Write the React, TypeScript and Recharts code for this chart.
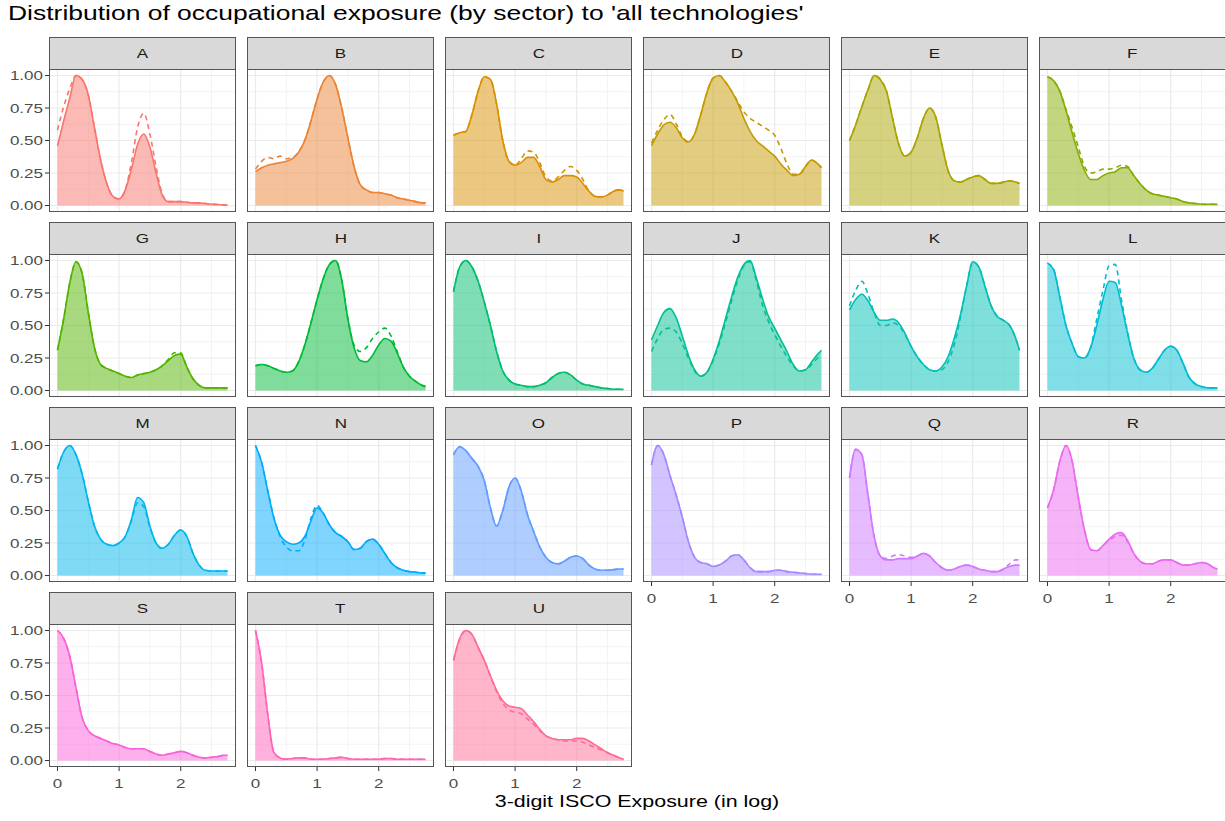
import React from "react";
import { ComposedChart, Area, Line, XAxis, YAxis, CartesianGrid } from "recharts";

// x grid of the density estimates (log exposure)
const X = [0, 0.1, 0.2, 0.3, 0.4, 0.5, 0.6, 0.7, 0.8, 0.9, 1.0, 1.1, 1.2, 1.3, 1.4, 1.5, 1.6, 1.7, 1.8, 1.9, 2.0, 2.1, 2.2, 2.3, 2.4, 2.5, 2.6, 2.7, 2.76];

const SECTORS = ["A", "B", "C", "D", "E", "F", "G", "H", "I", "J", "K", "L", "M", "N", "O", "P", "Q", "R", "S", "T", "U"];

const A_SOLID = [0.46, 0.65, 0.83, 1.0, 0.97, 0.85, 0.6, 0.35, 0.17, 0.07, 0.05, 0.12, 0.28, 0.47, 0.55, 0.45, 0.25, 0.08, 0.03, 0.03, 0.03, 0.025, 0.02, 0.02, 0.015, 0.01, 0.008, 0.005, 0.003];
const A_DASH = [0.58, 0.76, 0.9, 1.0, 0.97, 0.85, 0.6, 0.35, 0.17, 0.07, 0.05, 0.12, 0.33, 0.6, 0.71, 0.55, 0.3, 0.09, 0.03, 0.03, 0.03, 0.025, 0.02, 0.02, 0.015, 0.01, 0.008, 0.005, 0.003];
const B_SOLID = [0.26, 0.29, 0.31, 0.32, 0.33, 0.34, 0.36, 0.41, 0.5, 0.65, 0.82, 0.95, 1.0, 0.93, 0.75, 0.52, 0.3, 0.16, 0.12, 0.1, 0.1, 0.09, 0.08, 0.06, 0.05, 0.04, 0.03, 0.02, 0.02];
const B_DASH = [0.28, 0.34, 0.37, 0.36, 0.38, 0.36, 0.37, 0.41, 0.5, 0.65, 0.82, 0.95, 1.0, 0.93, 0.75, 0.52, 0.3, 0.16, 0.12, 0.1, 0.1, 0.09, 0.08, 0.06, 0.05, 0.04, 0.03, 0.02, 0.02];
const C_SOLID = [0.54, 0.56, 0.57, 0.7, 0.88, 0.99, 0.97, 0.78, 0.5, 0.34, 0.31, 0.33, 0.37, 0.37, 0.3, 0.2, 0.18, 0.2, 0.23, 0.23, 0.22, 0.17, 0.11, 0.07, 0.065, 0.08, 0.11, 0.12, 0.11];
const C_DASH = [0.54, 0.56, 0.57, 0.7, 0.88, 0.99, 0.97, 0.78, 0.5, 0.34, 0.31, 0.36, 0.42, 0.41, 0.33, 0.22, 0.19, 0.22, 0.27, 0.3, 0.27, 0.2, 0.11, 0.07, 0.065, 0.08, 0.11, 0.12, 0.11];
const D_SOLID = [0.46, 0.55, 0.62, 0.64, 0.6, 0.52, 0.49, 0.55, 0.7, 0.87, 0.98, 1.0, 0.95, 0.88, 0.79, 0.67, 0.57, 0.5, 0.46, 0.42, 0.38, 0.32, 0.27, 0.23, 0.24, 0.3, 0.35, 0.32, 0.29];
const D_DASH = [0.48, 0.58, 0.66, 0.7, 0.63, 0.53, 0.49, 0.55, 0.7, 0.87, 0.98, 1.0, 0.95, 0.88, 0.8, 0.72, 0.67, 0.64, 0.61, 0.58, 0.54, 0.44, 0.32, 0.24, 0.24, 0.3, 0.35, 0.32, 0.29];
const E_SOLID = [0.5, 0.62, 0.76, 0.89, 1.0, 0.97, 0.88, 0.67, 0.47, 0.38, 0.41, 0.52, 0.67, 0.75, 0.68, 0.47, 0.27, 0.19, 0.18, 0.2, 0.22, 0.23, 0.2, 0.17, 0.17, 0.18, 0.19, 0.18, 0.17];
const E_DASH = E_SOLID;
const F_SOLID = [0.99, 0.96, 0.88, 0.73, 0.56, 0.4, 0.27, 0.2, 0.2, 0.23, 0.25, 0.26, 0.29, 0.29, 0.23, 0.17, 0.12, 0.09, 0.08, 0.07, 0.06, 0.05, 0.03, 0.02, 0.015, 0.01, 0.01, 0.01, 0.01];
const F_DASH = [0.99, 0.96, 0.88, 0.74, 0.6, 0.45, 0.3, 0.25, 0.26, 0.28, 0.28, 0.29, 0.31, 0.3, 0.23, 0.17, 0.12, 0.09, 0.08, 0.07, 0.06, 0.05, 0.03, 0.02, 0.015, 0.01, 0.01, 0.01, 0.01];
const G_SOLID = [0.31, 0.55, 0.83, 0.99, 0.9, 0.6, 0.33, 0.2, 0.17, 0.15, 0.13, 0.11, 0.1, 0.12, 0.13, 0.14, 0.16, 0.19, 0.23, 0.27, 0.28, 0.18, 0.09, 0.04, 0.02, 0.02, 0.02, 0.02, 0.02];
const G_DASH = [0.31, 0.55, 0.83, 0.99, 0.9, 0.6, 0.33, 0.2, 0.17, 0.15, 0.13, 0.11, 0.1, 0.12, 0.13, 0.14, 0.16, 0.19, 0.24, 0.29, 0.29, 0.18, 0.09, 0.04, 0.02, 0.02, 0.02, 0.02, 0.02];
const H_SOLID = [0.19, 0.2, 0.19, 0.17, 0.15, 0.14, 0.15, 0.22, 0.35, 0.52, 0.7, 0.86, 0.97, 1.0, 0.85, 0.55, 0.33, 0.23, 0.22, 0.27, 0.35, 0.4, 0.38, 0.29, 0.18, 0.11, 0.07, 0.04, 0.03];
const H_DASH = [0.19, 0.2, 0.19, 0.17, 0.15, 0.14, 0.15, 0.22, 0.35, 0.52, 0.7, 0.86, 0.97, 1.0, 0.85, 0.55, 0.35, 0.3, 0.33, 0.4, 0.45, 0.48, 0.42, 0.3, 0.18, 0.11, 0.07, 0.04, 0.03];
const I_SOLID = [0.76, 0.95, 1.0, 0.95, 0.84, 0.68, 0.5, 0.3, 0.15, 0.08, 0.05, 0.04, 0.03, 0.03, 0.04, 0.06, 0.1, 0.13, 0.14, 0.12, 0.08, 0.05, 0.04, 0.03, 0.02, 0.015, 0.01, 0.01, 0.01];
const I_DASH = I_SOLID;
const J_SOLID = [0.39, 0.5, 0.6, 0.63, 0.56, 0.42, 0.27, 0.16, 0.11, 0.14, 0.24, 0.38, 0.55, 0.72, 0.87, 0.97, 1.0, 0.87, 0.71, 0.57, 0.48, 0.39, 0.3, 0.2, 0.15, 0.16, 0.22, 0.28, 0.31];
const J_DASH = [0.3, 0.4, 0.47, 0.48, 0.45, 0.36, 0.25, 0.15, 0.11, 0.14, 0.23, 0.36, 0.52, 0.69, 0.85, 0.96, 0.99, 0.85, 0.66, 0.53, 0.43, 0.34, 0.26, 0.19, 0.15, 0.16, 0.2, 0.25, 0.27];
const K_SOLID = [0.62, 0.7, 0.74, 0.69, 0.6, 0.54, 0.54, 0.55, 0.52, 0.44, 0.34, 0.26, 0.2, 0.16, 0.15, 0.18, 0.26, 0.4, 0.58, 0.8, 0.99, 0.95, 0.8, 0.65, 0.57, 0.54, 0.5, 0.4, 0.31];
const K_DASH = [0.65, 0.77, 0.84, 0.74, 0.6, 0.5, 0.5, 0.52, 0.5, 0.43, 0.34, 0.26, 0.2, 0.16, 0.15, 0.16, 0.22, 0.35, 0.56, 0.8, 0.99, 0.95, 0.8, 0.65, 0.57, 0.54, 0.5, 0.4, 0.31];
const L_SOLID = [0.98, 0.93, 0.72, 0.5, 0.36, 0.26, 0.25, 0.33, 0.5, 0.7, 0.84, 0.83, 0.66, 0.44, 0.25, 0.16, 0.14, 0.17, 0.24, 0.31, 0.34, 0.31, 0.21, 0.1, 0.05, 0.03, 0.02, 0.02, 0.02];
const L_DASH = [0.98, 0.93, 0.72, 0.5, 0.36, 0.26, 0.25, 0.33, 0.55, 0.77, 0.96, 0.97, 0.7, 0.45, 0.25, 0.16, 0.14, 0.17, 0.24, 0.31, 0.34, 0.31, 0.21, 0.1, 0.05, 0.03, 0.02, 0.02, 0.02];
const M_SOLID = [0.82, 0.95, 1.0, 0.93, 0.78, 0.57, 0.38, 0.28, 0.24, 0.23, 0.25, 0.3, 0.43, 0.6, 0.56, 0.38, 0.25, 0.21, 0.24, 0.31, 0.35, 0.3, 0.17, 0.08, 0.04, 0.035, 0.035, 0.035, 0.035];
const M_DASH = [0.82, 0.95, 1.0, 0.93, 0.78, 0.57, 0.38, 0.28, 0.24, 0.23, 0.25, 0.3, 0.42, 0.56, 0.53, 0.37, 0.25, 0.21, 0.24, 0.31, 0.35, 0.3, 0.17, 0.08, 0.04, 0.035, 0.035, 0.035, 0.035];
const N_SOLID = [1.0, 0.87, 0.65, 0.44, 0.31, 0.26, 0.24, 0.25, 0.3, 0.42, 0.52, 0.48, 0.39, 0.33, 0.3, 0.26, 0.2, 0.21, 0.26, 0.28, 0.24, 0.17, 0.1, 0.06, 0.04, 0.03, 0.025, 0.02, 0.02];
const N_DASH = [1.0, 0.87, 0.65, 0.44, 0.3, 0.22, 0.19, 0.19, 0.27, 0.44, 0.54, 0.48, 0.39, 0.33, 0.3, 0.26, 0.2, 0.21, 0.26, 0.28, 0.24, 0.17, 0.1, 0.06, 0.04, 0.03, 0.025, 0.02, 0.02];
const O_SOLID = [0.93, 0.99, 0.96, 0.9, 0.84, 0.73, 0.52, 0.38, 0.5, 0.68, 0.75, 0.65, 0.47, 0.34, 0.22, 0.14, 0.1, 0.09, 0.11, 0.14, 0.15, 0.13, 0.08, 0.05, 0.04, 0.04, 0.045, 0.05, 0.05];
const O_DASH = O_SOLID;
const P_SOLID = [0.85, 1.0, 0.93, 0.77, 0.62, 0.45, 0.26, 0.14, 0.1, 0.09, 0.07, 0.08, 0.11, 0.15, 0.16, 0.12, 0.06, 0.03, 0.03, 0.03, 0.04, 0.04, 0.03, 0.025, 0.02, 0.015, 0.01, 0.01, 0.01];
const P_DASH = P_SOLID;
const Q_SOLID = [0.75, 0.97, 0.93, 0.62, 0.3, 0.15, 0.12, 0.12, 0.13, 0.13, 0.13, 0.15, 0.17, 0.15, 0.1, 0.06, 0.04, 0.05, 0.07, 0.08, 0.07, 0.05, 0.04, 0.03, 0.03, 0.05, 0.07, 0.08, 0.08];
const Q_DASH = [0.75, 0.97, 0.93, 0.62, 0.3, 0.15, 0.13, 0.15, 0.16, 0.15, 0.14, 0.15, 0.17, 0.15, 0.1, 0.06, 0.04, 0.05, 0.07, 0.08, 0.07, 0.05, 0.04, 0.03, 0.03, 0.05, 0.09, 0.12, 0.12];
const R_SOLID = [0.52, 0.66, 0.88, 1.0, 0.88, 0.6, 0.35, 0.2, 0.19, 0.23, 0.28, 0.32, 0.33, 0.27, 0.17, 0.11, 0.09, 0.09, 0.11, 0.12, 0.12, 0.1, 0.08, 0.08, 0.09, 0.1, 0.09, 0.06, 0.05];
const R_DASH = [0.52, 0.66, 0.88, 1.0, 0.88, 0.6, 0.35, 0.2, 0.19, 0.23, 0.27, 0.3, 0.31, 0.26, 0.17, 0.11, 0.09, 0.09, 0.11, 0.12, 0.12, 0.1, 0.08, 0.08, 0.09, 0.1, 0.09, 0.06, 0.05];
const S_SOLID = [1.0, 0.94, 0.8, 0.56, 0.33, 0.23, 0.19, 0.17, 0.15, 0.13, 0.12, 0.1, 0.09, 0.09, 0.09, 0.07, 0.05, 0.04, 0.05, 0.06, 0.07, 0.06, 0.04, 0.025, 0.02, 0.025, 0.03, 0.04, 0.04];
const S_DASH = S_SOLID;
const T_SOLID = [1.0, 0.75, 0.35, 0.06, 0.02, 0.01, 0.015, 0.02, 0.02, 0.01, 0.01, 0.01, 0.015, 0.02, 0.025, 0.015, 0.01, 0.01, 0.01, 0.01, 0.01, 0.015, 0.015, 0.01, 0.01, 0.01, 0.01, 0.01, 0.01];
const T_DASH = T_SOLID;
const U_SOLID = [0.77, 0.94, 1.0, 0.97, 0.87, 0.77, 0.65, 0.54, 0.46, 0.42, 0.41, 0.4, 0.35, 0.3, 0.24, 0.19, 0.17, 0.16, 0.16, 0.16, 0.17, 0.17, 0.15, 0.12, 0.09, 0.06, 0.04, 0.02, 0.01];
const U_DASH = [0.77, 0.93, 1.0, 0.97, 0.87, 0.77, 0.65, 0.53, 0.44, 0.39, 0.37, 0.36, 0.32, 0.28, 0.23, 0.19, 0.17, 0.16, 0.15, 0.15, 0.15, 0.14, 0.12, 0.1, 0.08, 0.06, 0.04, 0.02, 0.01];

const SOLIDS = [A_SOLID, B_SOLID, C_SOLID, D_SOLID, E_SOLID, F_SOLID, G_SOLID, H_SOLID, I_SOLID, J_SOLID, K_SOLID, L_SOLID, M_SOLID, N_SOLID, O_SOLID, P_SOLID, Q_SOLID, R_SOLID, S_SOLID, T_SOLID, U_SOLID];
const DASHES = [A_DASH, B_DASH, C_DASH, D_DASH, E_DASH, F_DASH, G_DASH, H_DASH, I_DASH, J_DASH, K_DASH, L_DASH, M_DASH, N_DASH, O_DASH, P_DASH, Q_DASH, R_DASH, S_DASH, T_DASH, U_DASH];

const X_TICKS = [0, 1, 2];
const X_MINOR = [0.5, 1.5, 2.5];
const Y_TICKS = [0, 0.25, 0.5, 0.75, 1];
const Y_MINOR = [0.125, 0.375, 0.625, 0.875];

// ggplot-style hue palette (hcl, c = 100, l = 65)
function hcl(h: number, c = 100, l = 65) {
  const hr = (h * Math.PI) / 180;
  const U = c * Math.cos(hr);
  const V = c * Math.sin(hr);
  const Xn = 95.047, Yn = 100, Zn = 108.883;
  const Y = Yn * Math.pow((l + 16) / 116, 3);
  const t = Xn + 15 * Yn + 3 * Zn;
  const u = U / (13 * l) + (4 * Xn) / t;
  const v = V / (13 * l) + (9 * Yn) / t;
  const Xv = (9 * Y * u) / (4 * v);
  const Zv = -Xv / 3 - 5 * Y + (3 * Y) / v;
  const x = Xv / 100, y = Y / 100, z = Zv / 100;
  const lin = [
    3.240479 * x - 1.53715 * y - 0.498535 * z,
    -0.969256 * x + 1.875992 * y + 0.041556 * z,
    0.055648 * x - 0.204043 * y + 1.057311 * z,
  ];
  const hex = lin
    .map((c0) => {
      const g = c0 <= 0.0031308 ? 12.92 * c0 : 1.055 * Math.pow(c0, 1 / 2.4) - 0.055;
      const n = Math.round(Math.min(1, Math.max(0, g)) * 255);
      return n.toString(16).padStart(2, "0");
    })
    .join("");
  return "#" + hex;
}

const COLORS = SECTORS.map((_, i) => hcl(15 + (i * 360) / SECTORS.length));

const FONT = "'Liberation Sans', Arial, Helvetica, sans-serif";
const STRETCH = 1.26; // the reference text is drawn wide
const COL_LEFT = 49;
const COL_STEP = 198;
const PANEL_W = 187;
const ROW_TOP = 37;
const ROW_STEP = 185;
const STRIP_H = 32;
const PLOT_H = 143;
const Y_AXIS_W = 46;
const X_AXIS_H = 28;
const GRID = "#ebebeb";
const BORDER = "#555555";
const TICK_FONT = 13.5;

function YTick(props: any) {
  const { x, y, payload } = props;
  return (
    <g transform={`translate(${x},${y})`}>
      <text
        x={0}
        y={0}
        dy="0.36em"
        textAnchor="end"
        transform={`scale(${STRETCH},1)`}
        fill="#4d4d4d"
        fontSize={TICK_FONT}
        fontFamily={FONT}
      >
        {Number(payload.value).toFixed(2)}
      </text>
    </g>
  );
}

function XTick(props: any) {
  const { x, y, payload } = props;
  return (
    <g transform={`translate(${x},${y})`}>
      <text
        x={0}
        y={0}
        dy="1.1em"
        textAnchor="middle"
        transform={`scale(${STRETCH},1)`}
        fill="#4d4d4d"
        fontSize={TICK_FONT}
        fontFamily={FONT}
      >
        {payload.value}
      </text>
    </g>
  );
}

function Panel({ idx }: { idx: number }) {
  const row = Math.floor(idx / 6);
  const col = idx % 6;
  const color = COLORS[idx];
  const showY = col === 0;
  const showX = idx + 6 >= SECTORS.length;
  const left = COL_LEFT + col * COL_STEP;
  const stripTop = ROW_TOP + row * ROW_STEP;
  const plotTop = stripTop + STRIP_H;
  const rows = X.map((x, i) => ({ x, s: SOLIDS[idx][i], d: DASHES[idx][i] }));
  const w = PANEL_W + (showY ? Y_AXIS_W : 0);
  const h = PLOT_H + (showX ? X_AXIS_H : 0);

  return (
    <>
      <div
        style={{
          position: "absolute",
          left,
          top: stripTop,
          width: PANEL_W,
          height: STRIP_H + 1,
          boxSizing: "border-box",
          background: "#d9d9d9",
          border: `1px solid ${BORDER}`,
          color: "#1a1a1a",
          fontSize: 13.5,
          lineHeight: `${STRIP_H - 1}px`,
          textAlign: "center",
        }}
      >
        <span style={{ display: "inline-block", transform: `scaleX(${STRETCH})` }}>{SECTORS[idx]}</span>
      </div>
      <div style={{ position: "absolute", left: left - (showY ? Y_AXIS_W : 0), top: plotTop }}>
        <ComposedChart width={w} height={h} data={rows} margin={{ top: 0, right: 0, bottom: 0, left: 0 }}>
          <XAxis
            type="number"
            dataKey="x"
            domain={[-0.138, 2.898]}
            ticks={X_TICKS}
            interval={0}
            allowDataOverflow
            hide={!showX}
            height={X_AXIS_H}
            axisLine={false}
            tickSize={4}
            tickLine={{ stroke: "#333333" }}
            tick={<XTick />}
          />
          <YAxis
            type="number"
            domain={[-0.05, 1.05]}
            ticks={Y_TICKS}
            interval={0}
            allowDataOverflow
            hide={!showY}
            width={Y_AXIS_W}
            axisLine={false}
            tickSize={4}
            tickLine={{ stroke: "#333333" }}
            tick={<YTick />}
          />
          <CartesianGrid
            stroke={GRID}
            strokeWidth={0.6}
            verticalValues={X_MINOR}
            horizontalValues={Y_MINOR}
          />
          <CartesianGrid
            stroke={GRID}
            strokeWidth={1.2}
            verticalValues={X_TICKS}
            horizontalValues={Y_TICKS}
          />
          <Area
            type="monotone"
            dataKey="s"
            baseValue={0}
            stroke={color}
            strokeWidth={1.6}
            fill={color}
            fillOpacity={0.5}
            isAnimationActive={false}
            dot={false}
            activeDot={false}
          />
          <Line
            type="monotone"
            dataKey="d"
            stroke={color}
            strokeWidth={1.6}
            strokeDasharray="5 4"
            dot={false}
            activeDot={false}
            isAnimationActive={false}
          />
        </ComposedChart>
      </div>
      <div
        style={{
          position: "absolute",
          left,
          top: plotTop,
          width: PANEL_W,
          height: PLOT_H,
          boxSizing: "border-box",
          border: `1px solid ${BORDER}`,
          pointerEvents: "none",
        }}
      />
    </>
  );
}

export default function App() {
  return (
    <div
      style={{
        position: "absolute",
        left: 0,
        top: 0,
        width: 1225,
        height: 821,
        background: "#ffffff",
        fontFamily: FONT,
        overflow: "hidden",
      }}
    >
      <div
        style={{
          position: "absolute",
          left: 8,
          top: 1,
          fontSize: 21,
          color: "#000000",
          whiteSpace: "nowrap",
          transform: `scaleX(${STRETCH})`,
          transformOrigin: "left center",
        }}
      >
        Distribution of occupational exposure (by sector) to 'all technologies'
      </div>
      {SECTORS.map((_, i) => (
        <Panel key={SECTORS[i]} idx={i} />
      ))}
      <div
        style={{
          position: "absolute",
          left: COL_LEFT,
          width: 1176,
          top: 792,
          fontSize: 17,
          color: "#000000",
          textAlign: "center",
          whiteSpace: "nowrap",
          transform: `scaleX(${STRETCH})`,
          transformOrigin: "center",
        }}
      >
        3-digit ISCO Exposure (in log)
      </div>
    </div>
  );
}
